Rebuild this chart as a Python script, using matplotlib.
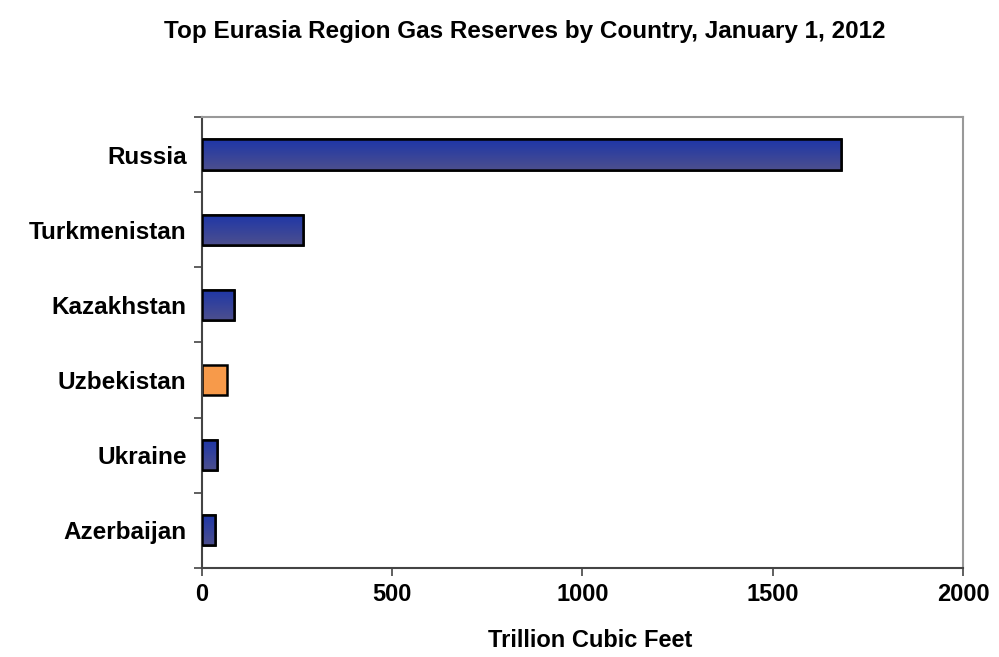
import numpy as np
import matplotlib
matplotlib.use('Agg')
import matplotlib.pyplot as plt
from matplotlib.colors import LinearSegmentedColormap

plt.rcParams['font.family'] = ['Liberation Sans', 'DejaVu Sans']

countries = ['Russia', 'Turkmenistan', 'Kazakhstan', 'Uzbekistan', 'Ukraine', 'Azerbaijan']
reserves = [1680, 265, 85, 65, 39, 35]
colors = ['#2a3898', '#2a3898', '#2a3898', '#f79a4a', '#2a3898', '#2a3898']

fig = plt.figure(figsize=(9.99, 6.57), dpi=100)
ax = fig.add_axes([0.202, 0.1355, 0.762, 0.6865])

ypos = list(range(len(countries)))[::-1]
bars = ax.barh(ypos, reserves, height=0.4, color=colors, edgecolor='black',
               linewidth=1.8, zorder=2)

# slight vertical shading on the blue bars, like the original
blue_grad = LinearSegmentedColormap.from_list('bg', ['#4c4f8e', '#1e36a8'])
grad = np.linspace(0, 1, 64).reshape(-1, 1)
for b, c in zip(bars, colors):
    if c == '#f79a4a':
        continue
    x0, y0, w, h = b.get_x(), b.get_y(), b.get_width(), b.get_height()
    im = ax.imshow(grad, cmap=blue_grad, aspect='auto', origin='lower',
                   extent=[x0, x0 + w, y0, y0 + h], zorder=2.5)
    im.set_clip_path(b)
    ax.add_patch(plt.Rectangle((x0, y0), w, h, fill=False, edgecolor='black',
                               linewidth=1.8, zorder=3))

ax.set_xlim(0, 2000)
ax.set_ylim(-0.5, len(countries) - 0.5)
ax.set_xticks([0, 500, 1000, 1500, 2000])
ax.set_yticks(ypos)
ax.set_yticklabels(countries, fontsize=17.5, fontweight='bold')
for lab in ax.get_xticklabels():
    lab.set_fontsize(17)
    lab.set_fontweight('bold')

# category boundary ticks on the y axis
ax.set_yticks([y + 0.5 for y in range(-1, len(countries))], minor=True)
ax.tick_params(axis='y', which='major', length=0, pad=11)
ax.tick_params(axis='y', which='minor', length=6, width=1.2, color='#444444')
ax.tick_params(axis='x', length=6, width=1.2, color='#444444', pad=5)

for s in ['left', 'bottom']:
    ax.spines[s].set_color('#444444')
    ax.spines[s].set_linewidth(1.5)
for s in ['top', 'right']:
    ax.spines[s].set_color('#999999')
    ax.spines[s].set_linewidth(1.5)

ax.set_xlabel('Trillion Cubic Feet', fontsize=17, fontweight='bold', labelpad=20)
ax.xaxis.set_label_coords(0.51, -0.135)
fig.text(0.525, 0.952, 'Top Eurasia Region Gas Reserves by Country, January 1, 2012',
         fontsize=17.5, fontweight='bold', ha='center', va='center')

fig.savefig('out.png', dpi=100)
